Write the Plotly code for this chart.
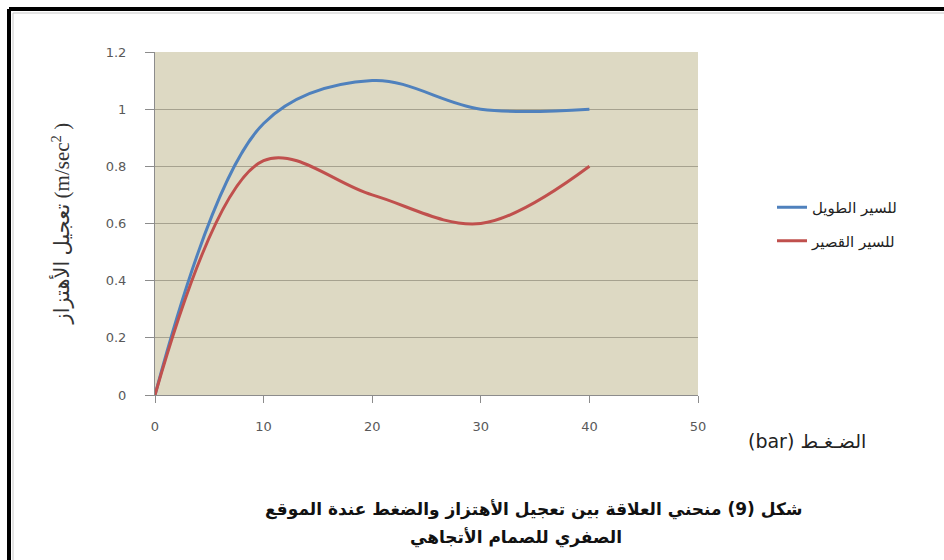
import plotly.graph_objects as go

# Pressure (bar) and vibration acceleration (m/sec^2) for the two strokes
pressure = [0, 10, 20, 30, 40]
long_stroke = [0, 0.95, 1.1, 1.0, 1.0]
short_stroke = [0, 0.82, 0.7, 0.6, 0.8]

series_names = ["للسير الطويل", "للسير القصير"]
series_colors = ["#4F81BD", "#C0504D"]

x_ticks = [0, 10, 20, 30, 40, 50]
y_ticks = [0, 0.2, 0.4, 0.6, 0.8, 1, 1.2]
y_tick_text = ["0", "0.2", "0.4", "0.6", "0.8", "1", "1.2"]

caption_line1 = "شكل (9) منحني العلاقة بين تعجيل الأهتزاز والضغط عندة الموقع"
caption_line2 = "الصفري للصمام الأتجاهي"

W, H = 944, 560
L, R, T, B = 155, 246, 52, 165
PW, PH = W - L - R, H - T - B


def px(xp):
    return (xp - L) / PW


def py(yp):
    return (H - B - yp) / PH


fig = go.Figure()
for name, vals, col in zip(series_names, [long_stroke, short_stroke], series_colors):
    fig.add_trace(go.Scatter(
        x=pressure, y=vals, name=name, mode="lines",
        line=dict(color=col, width=3, shape="spline", smoothing=1.0),
        legendgroup=name,
    ))

axis_font = dict(family="DejaVu Sans", size=13, color="#595959")

fig.update_layout(
    width=W, height=H,
    margin=dict(l=L, r=R, t=T, b=B),
    paper_bgcolor="white",
    plot_bgcolor="#DDD9C3",
    showlegend=True,
    legend=dict(
        x=px(772), y=py(191), xanchor="left", yanchor="top",
        font=dict(family="DejaVu Sans", size=15, color="#222"),
        bgcolor="rgba(0,0,0,0)", tracegroupgap=11, traceorder="grouped",
    ),
    xaxis=dict(
        range=[0, 50], tickvals=x_ticks, showgrid=False, zeroline=False,
        showline=True, linecolor="#8C8C8C", linewidth=1,
        ticks="outside", ticklen=7, tickcolor="#8C8C8C",
        tickfont=axis_font, ticklabelstandoff=12,
    ),
    yaxis=dict(
        range=[0, 1.2], tickvals=y_ticks, ticktext=y_tick_text,
        showgrid=True, gridcolor="#A6A28F", gridwidth=1, zeroline=False,
        showline=True, linecolor="#8C8C8C", linewidth=1,
        ticks="outside", ticklen=9, tickcolor="#8C8C8C",
        tickfont=axis_font, ticklabelstandoff=16,
    ),
)

# Axis titles
fig.add_annotation(
    text="تعجيل الأهتزاز (m/sec<sup>2</sup> )", textangle=-90,
    x=px(45), y=py(224), xref="paper", yref="paper", showarrow=False,
    font=dict(family="Liberation Serif, DejaVu Sans", size=21, color="#333"),
)
fig.add_annotation(
    text="(bar) الضـغـط",
    x=px(868), y=py(454), xref="paper", yref="paper", showarrow=False,
    font=dict(family="DejaVu Sans", size=19, color="#222"),
)

# Figure caption
cap_font = dict(family="DejaVu Sans", size=17, color="#111")
fig.add_annotation(
    text="<b>" + caption_line1 + "</b>",
    x=px(805), y=py(522), xref="paper", yref="paper", showarrow=False, font=cap_font,
)
fig.add_annotation(
    text="<b>" + caption_line2 + "</b>",
    x=px(516), y=py(550), xref="paper", yref="paper", showarrow=False, font=cap_font,
)

# Frame around the figure
fig.add_shape(type="line", xref="paper", yref="paper",
              x0=px(9), x1=px(960), y0=py(9), y1=py(9),
              line=dict(color="black", width=4))
fig.add_shape(type="line", xref="paper", yref="paper",
              x0=px(9), x1=px(9), y0=py(9), y1=py(580),
              line=dict(color="black", width=4))
fig.add_shape(type="line", xref="paper", yref="paper",
              x0=px(13), x1=px(960), y0=py(13), y1=py(13),
              line=dict(color="#C8C8C8", width=1))
fig.add_shape(type="line", xref="paper", yref="paper",
              x0=px(13), x1=px(13), y0=py(13), y1=py(580),
              line=dict(color="#C8C8C8", width=1))

fig.write_html("out.html")
